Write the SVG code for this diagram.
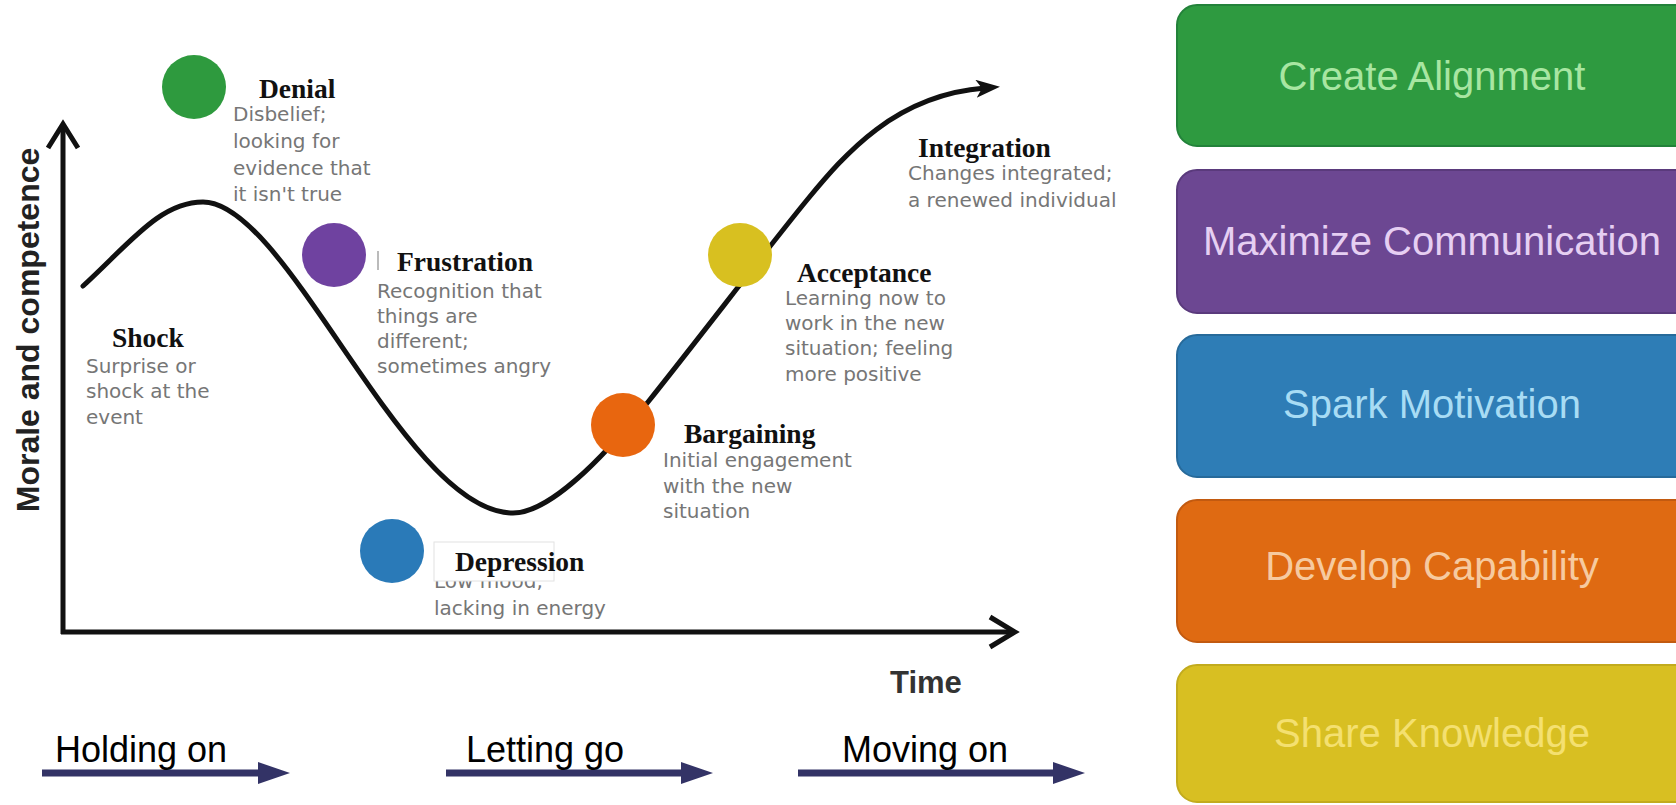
<svg xmlns="http://www.w3.org/2000/svg" width="1676" height="805" viewBox="0 0 1676 805">
<defs>
<style>
.h{font-family:"Liberation Serif","Times New Roman",serif;font-weight:bold;font-size:27.5px;fill:#111}
.d{font-family:"DejaVu Sans","Liberation Sans",sans-serif;font-size:20px;fill:#767676}
.phase{font-family:"Liberation Sans",Arial,sans-serif;font-size:36px;fill:#000}
.box{font-family:"Liberation Sans",Arial,sans-serif;font-size:40px;text-anchor:middle}
.ax{fill:none;stroke:#111;stroke-width:5}
.bar{fill:#333366}
</style>
<marker id="curveHead" markerUnits="userSpaceOnUse" viewBox="0 0 24 18" markerWidth="24" markerHeight="18" refX="9" refY="9" orient="auto">
<path d="M0,0 L24,9 L0,18 L6,9 z" fill="#111"/>
</marker>
</defs>
<rect x="0" y="0" width="1676" height="805" fill="#fff"/>

<g id="connectors">
<path id="curve" d="M83,286 C130,243 160,202 203,202 C288,202 405,513 513,513 C548,513 600,462 648,402 C700,337 770,245 807,200 C845,154 895,95 985,88" fill="none" stroke="#111" stroke-width="5" stroke-linecap="round" marker-end="url(#curveHead)"/>
<line class="ax" x1="63" y1="126" x2="63" y2="634"/>
<polyline class="ax" points="48,148 63,124 78,148" stroke-linejoin="miter"/>
<line class="ax" x1="61" y1="632" x2="1014" y2="632"/>
<polyline class="ax" points="990,617 1015,632 990,647" stroke-linejoin="miter"/>
<path class="bar" d="M42,769.5 H258 V762 L290,773 L258,784 V776.5 H42 Z"/>
<path class="bar" d="M446,769.5 H681 V762 L713,773 L681,784 V776.5 H446 Z"/>
<path class="bar" d="M798,769.5 H1053 V762 L1085,773 L1053,784 V776.5 H798 Z"/>
</g>

<g id="axis-labels">
<text x="39" y="330" transform="rotate(-90 39 330)" text-anchor="middle" style="font-family:'Liberation Sans',Arial,sans-serif;font-weight:bold;font-size:32px;fill:#222">Morale and competence</text>
<text x="890" y="693" style="font-family:'Liberation Sans',Arial,sans-serif;font-weight:bold;font-size:31px;fill:#333">Time</text>
</g>

<g id="shock">
<text class="h" x="112" y="347">Shock</text>
<text class="d" x="86" y="373">Surprise or</text>
<text class="d" x="86" y="398">shock at the</text>
<text class="d" x="86" y="424">event</text>
</g>

<g id="denial">
<circle cx="194" cy="87" r="32" fill="#2e9a3e"/>
<text class="h" x="259" y="98">Denial</text>
<text class="d" x="233" y="121">Disbelief;</text>
<text class="d" x="233" y="148">looking for</text>
<text class="d" x="233" y="175">evidence that</text>
<text class="d" x="233" y="201">it isn't true</text>
</g>

<g id="frustration">
<circle cx="334" cy="255" r="32" fill="#6f42a0"/>
<rect x="377" y="251" width="2" height="19" fill="#bbb"/>
<text class="h" x="397" y="271">Frustration</text>
<text class="d" x="377" y="298">Recognition that</text>
<text class="d" x="377" y="323">things are</text>
<text class="d" x="377" y="348">different;</text>
<text class="d" x="377" y="373">sometimes angry</text>
</g>

<g id="depression">
<circle cx="392" cy="551" r="32" fill="#2a7ab8"/>
<text class="d" x="434" y="588">Low mood,</text>
<rect x="434" y="542" width="120" height="39" fill="#fff" stroke="#e2e2e2" stroke-width="1"/>
<text class="h" x="455" y="571">Depression</text>
<text class="d" x="434" y="615">lacking in energy</text>
</g>

<g id="bargaining">
<circle cx="623" cy="425" r="32" fill="#e8660f"/>
<text class="h" x="684" y="443">Bargaining</text>
<text class="d" x="663" y="467">Initial engagement</text>
<text class="d" x="663" y="493">with the new</text>
<text class="d" x="663" y="518">situation</text>
</g>

<g id="acceptance">
<circle cx="740" cy="255" r="32" fill="#d8c020"/>
<text class="h" x="797" y="282">Acceptance</text>
<text class="d" x="785" y="305">Learning now to</text>
<text class="d" x="785" y="330">work in the new</text>
<text class="d" x="785" y="355">situation; feeling</text>
<text class="d" x="785" y="381">more positive</text>
</g>

<g id="integration">
<text class="h" x="918" y="157">Integration</text>
<text class="d" x="908" y="180">Changes integrated;</text>
<text class="d" x="908" y="207">a renewed individual</text>
</g>

<g id="phase-holding"><text class="phase" x="55" y="762">Holding on</text></g>
<g id="phase-letting"><text class="phase" x="466" y="762">Letting go</text></g>
<g id="phase-moving"><text class="phase" x="842" y="762">Moving on</text></g>

<g id="box-alignment">
<rect x="1177" y="5" width="520" height="141" rx="20" fill="#2e9a40" stroke="#23823a" stroke-width="2"/>
<text class="box" x="1432" y="90" fill="#a8e6a2">Create Alignment</text>
</g>
<g id="box-communication">
<rect x="1177" y="170" width="520" height="143" rx="20" fill="#6c4792" stroke="#5a3a7c" stroke-width="2"/>
<text class="box" x="1432" y="255" fill="#e6cff2">Maximize Communication</text>
</g>
<g id="box-motivation">
<rect x="1177" y="335" width="520" height="142" rx="20" fill="#2e7db6" stroke="#276a9a" stroke-width="2"/>
<text class="box" x="1432" y="418" fill="#a8dcf4">Spark Motivation</text>
</g>
<g id="box-capability">
<rect x="1177" y="500" width="520" height="142" rx="20" fill="#df6a12" stroke="#c25a10" stroke-width="2"/>
<text class="box" x="1432" y="580" fill="#f6caa0">Develop Capability</text>
</g>
<g id="box-knowledge">
<rect x="1177" y="665" width="520" height="137" rx="20" fill="#d8bf22" stroke="#c2ab1e" stroke-width="2"/>
<text class="box" x="1432" y="747" fill="#f4e070">Share Knowledge</text>
</g>
</svg>
